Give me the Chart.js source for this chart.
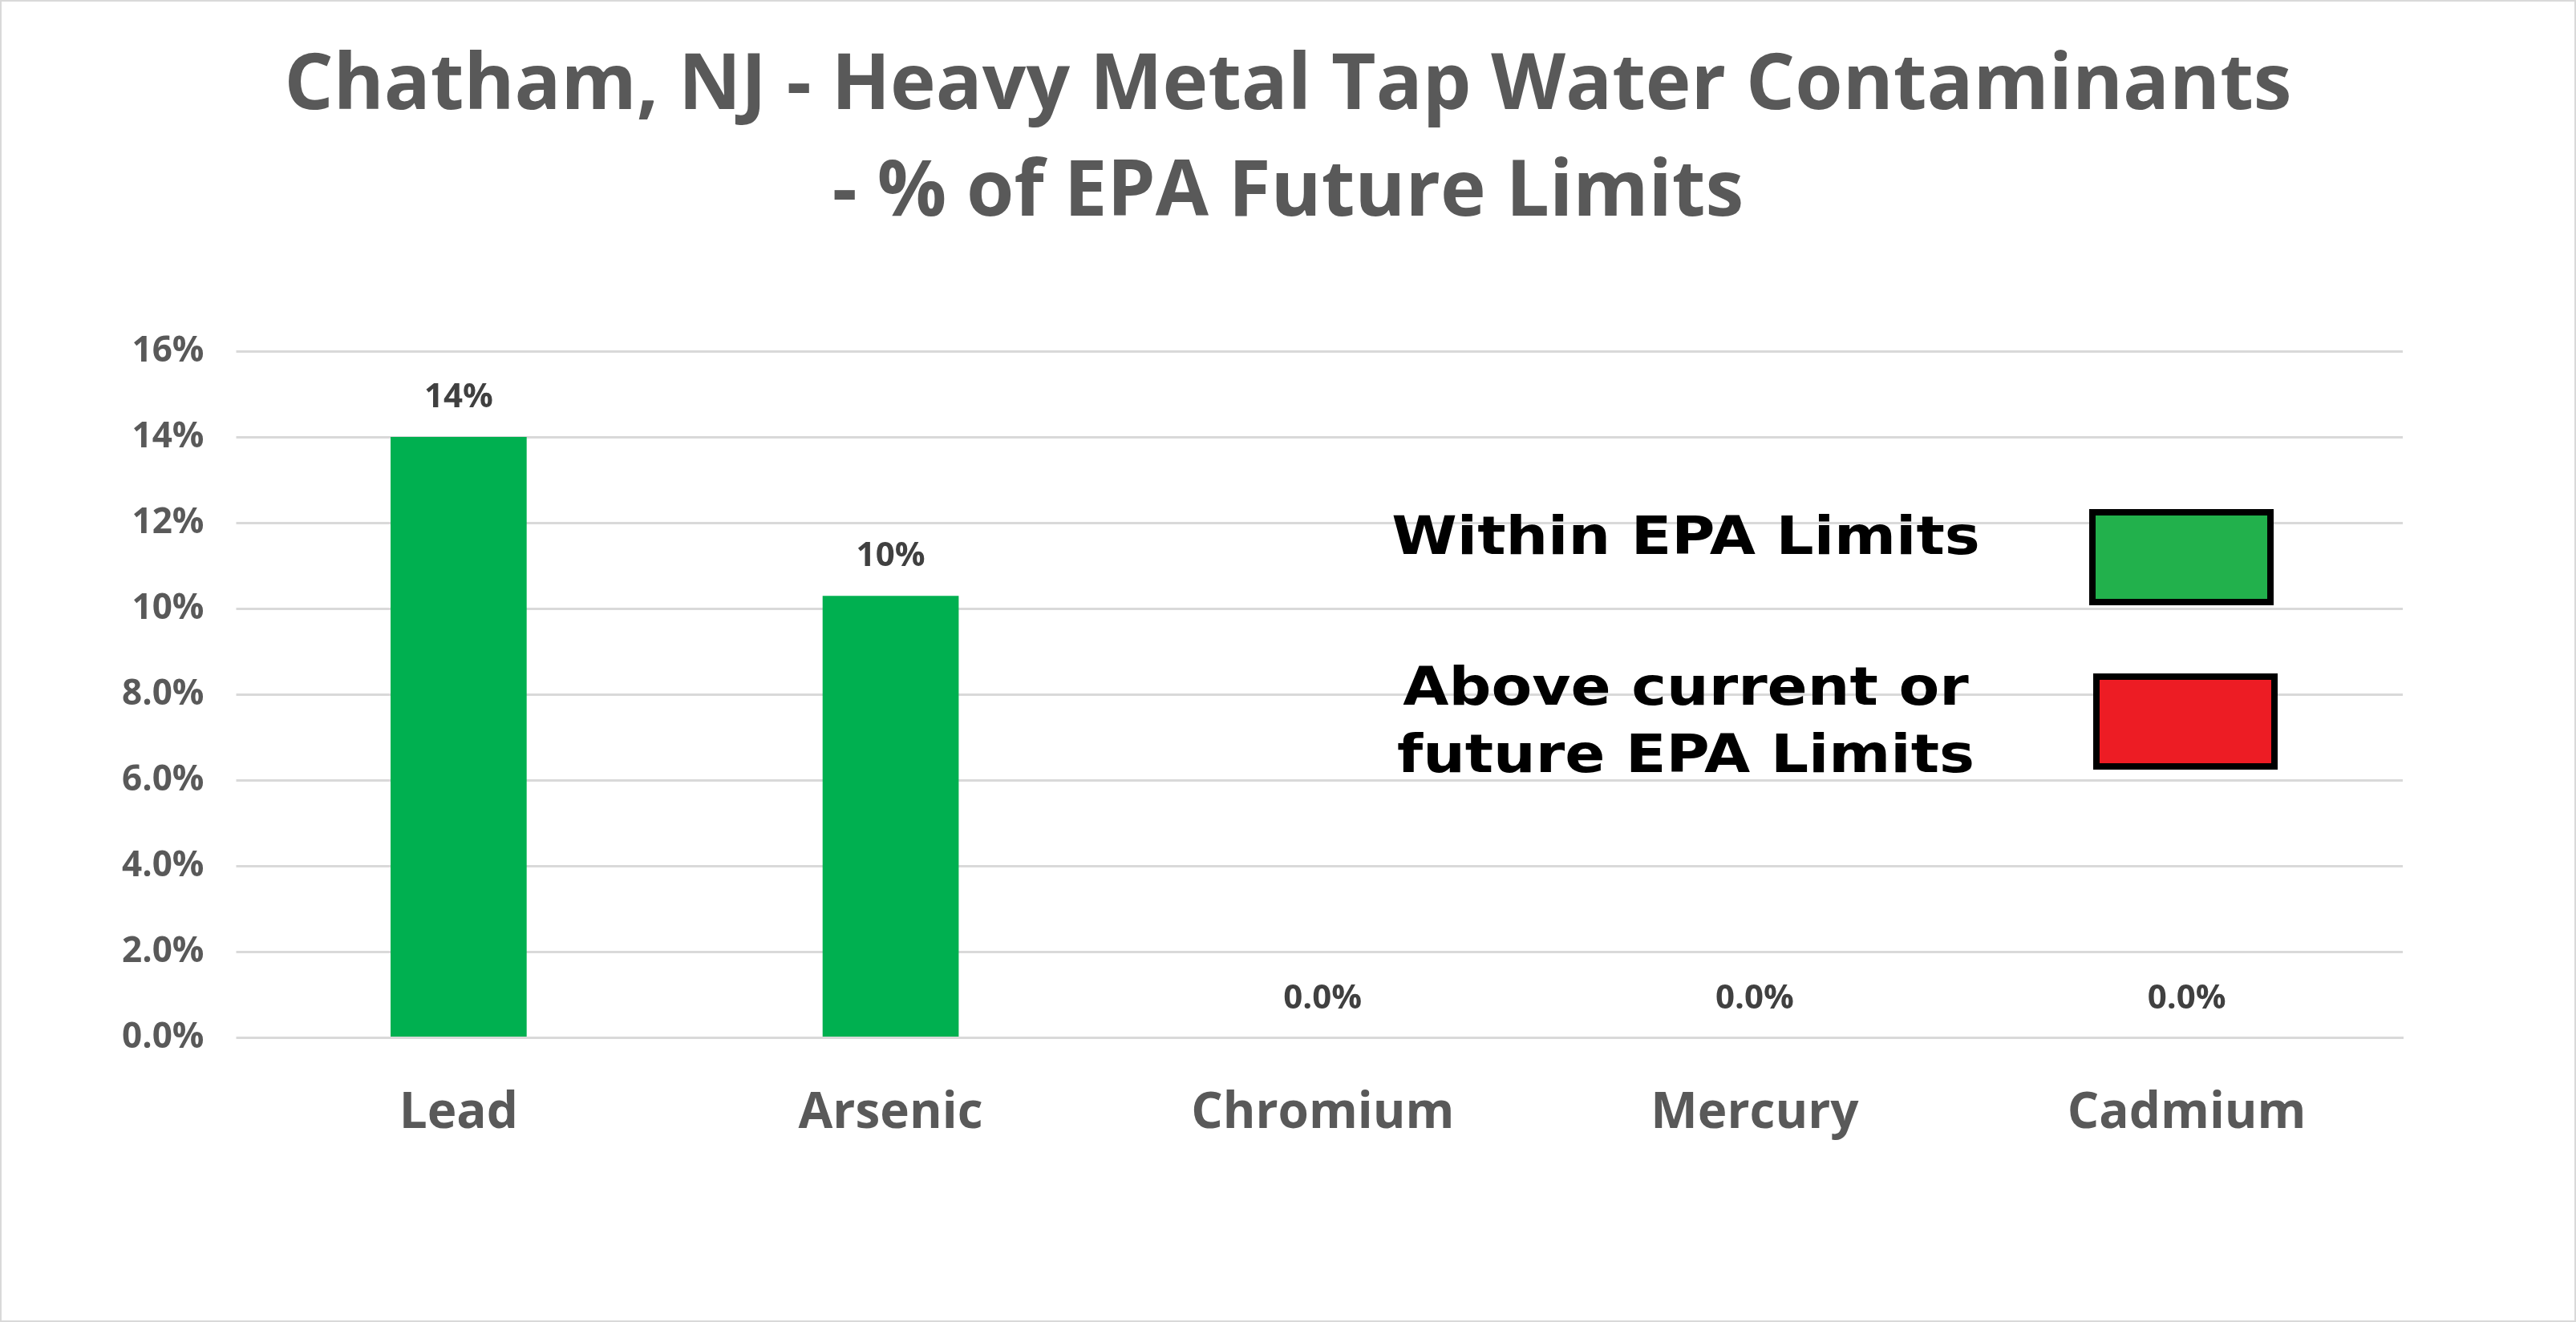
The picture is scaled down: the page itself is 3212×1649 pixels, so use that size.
<!DOCTYPE html>
<html>
<head>
<meta charset="utf-8">
<script src="https://cdn.jsdelivr.net/npm/chart.js@4"></script>
<style>
  html, body { margin: 0; padding: 0; background: #fff; }
  #wrap { width: 3208px; height: 1645px; border: 2px solid #d9d9d9; position: relative; }
</style>
</head>
<body>
<div id="wrap"><canvas id="chart"></canvas></div>
<script>
const categories = ['Lead', 'Arsenic', 'Chromium', 'Mercury', 'Cadmium'];
const percentValues = [14.0, 10.3, 0, 0, 0];
const valueLabels = ['14%', '10%', '0.0%', '0.0%', '0.0%'];
const tickLabels = ['0.0%', '2.0%', '4.0%', '6.0%', '8.0%', '10%', '12%', '14%', '16%'];
const titleLines = ['Chatham, NJ - Heavy Metal Tap Water Contaminants', '- % of EPA Future Limits'];
const legendItems = [
  { lines: ['Within EPA Limits'], color: '#22B14C' },
  { lines: ['Above current or', 'future EPA Limits'], color: '#ED1C24' },
];

const titlePlugin = {
  id: 'centeredTitle',
  afterDraw(chart) {
    const ctx = chart.ctx;
    ctx.save();
    ctx.font = 'bold 96px "Open Sans", Calibri, sans-serif';
    ctx.fillStyle = '#595959';
    ctx.textAlign = 'center';
    ctx.textBaseline = 'middle';
    ctx.fillText(titleLines[0], 1604, 107);
    ctx.fillText(titleLines[1], 1604, 240);
    ctx.restore();
  },
};

const valueLabelPlugin = {
  id: 'valueLabels',
  afterDatasetsDraw(chart) {
    const ctx = chart.ctx;
    const meta = chart.getDatasetMeta(0);
    ctx.save();
    ctx.font = 'bold 42px "Open Sans", Calibri, sans-serif';
    ctx.fillStyle = '#404040';
    ctx.textAlign = 'center';
    ctx.textBaseline = 'bottom';
    meta.data.forEach((bar, i) => ctx.fillText(valueLabels[i], bar.x, bar.y - 28));
    ctx.restore();
  },
};

const customLegendPlugin = {
  id: 'customLegend',
  afterDraw(chart) {
    const ctx = chart.ctx;
    ctx.save();
    ctx.font = '900 66px "DejaVu Sans", Arial, sans-serif';
    ctx.textAlign = 'center';
    ctx.textBaseline = 'middle';
    const boxes = [
      { textY: [672], box: [2607, 637, 222, 112] },
      { textY: [860, 944], box: [2612, 842, 222, 112] },
    ];
    legendItems.forEach((item, i) => {
      ctx.fillStyle = '#000';
      item.lines.forEach((line, j) => {
        ctx.save();
        ctx.translate(2100, boxes[i].textY[j]);
        ctx.scale(1.12, 1);
        ctx.fillText(line, 0, 0);
        ctx.restore();
      });
      const [x, y, w, h] = boxes[i].box;
      ctx.fillStyle = item.color;
      ctx.fillRect(x, y, w, h);
      ctx.lineWidth = 8;
      ctx.strokeStyle = '#000';
      ctx.strokeRect(x, y, w, h);
    });
    ctx.restore();
  },
};

new Chart(document.getElementById('chart'), {
  type: 'bar',
  data: {
    labels: categories,
    datasets: [{
      data: percentValues,
      backgroundColor: '#00B050',
      categoryPercentage: 1,
      barPercentage: 0.315,
    }],
  },
  options: {
    responsive: true,
    maintainAspectRatio: false,
    animation: false,
    layout: { padding: { left: 110, right: 214, top: 436, bottom: 170 } },
    plugins: {
      legend: { display: false },
      tooltip: { enabled: false },
      title: { display: false },
    },
    scales: {
      x: {
        grid: { display: false },
        border: { color: '#d9d9d9', width: 3 },
        ticks: { color: '#595959', font: { family: '"Open Sans", Calibri, sans-serif', size: 62, weight: 'bold' }, padding: 50 },
      },
      y: {
        min: 0,
        max: 16,
        ticks: {
          stepSize: 2,
          color: '#595959',
          font: { family: '"Open Sans", Calibri, sans-serif', size: 44, weight: 'bold' },
          padding: 40,
          callback: (v) => tickLabels[Math.round(v / 2)],
        },
        grid: { color: '#d9d9d9', lineWidth: 3 },
        border: { display: false },
      },
    },
  },
  plugins: [valueLabelPlugin, customLegendPlugin, titlePlugin],
});
</script>
</body>
</html>
